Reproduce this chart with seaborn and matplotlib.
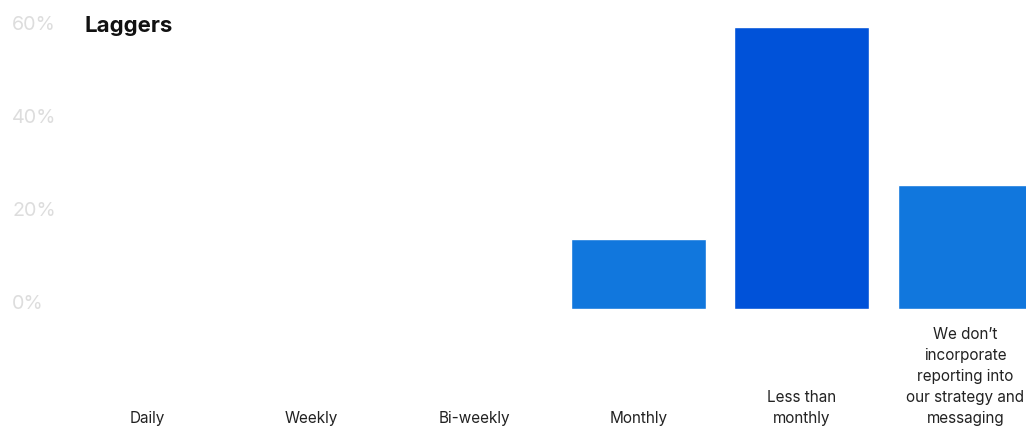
import matplotlib
matplotlib.use("Agg")
import matplotlib.pyplot as plt
import seaborn as sns
import pandas as pd

# Reporting frequency among laggers
categories = [
    "Daily",
    "Weekly",
    "Bi-weekly",
    "Monthly",
    "Less than\nmonthly",
    "We don\u2019t\nincorporate\nreporting into\nour strategy and\nmessaging",
]
shares = [0.0, 0.0, 0.0, 15.0, 60.6, 26.7]
highlight = "Less than\nmonthly"
y_ticks = [0, 20, 40, 60]
y_tick_labels = ["0%", "20%", "40%", "60%"]
title = "Laggers"

BLUE = "#1177DD"
DARK_BLUE = "#0052D9"

sns.set_theme(style="white")
plt.rcParams["font.family"] = ["Inter", "DejaVu Sans"]

df = pd.DataFrame({"category": categories, "share": shares})
palette = {c: (DARK_BLUE if c == highlight else BLUE) for c in categories}

W, H = 1026, 428
fig = plt.figure(figsize=(W / 100, H / 100), dpi=100)

# axes spans one category slot per 163.5 px, starting at x=66; zero line at y=308.7
slot = 163.5
x0 = 66
px_per_pct = 4.647
zero_y = 308.7
ymax = 65
ax = fig.add_axes([x0 / W, (H - zero_y) / H, 6 * slot / W, ymax * px_per_pct / H])

sns.barplot(data=df, x="category", y="share", hue="category", palette=palette,
            legend=False, width=0.826, saturation=1, ax=ax)

ax.set_ylim(0, ymax)
ax.set_xlim(-0.5, 5.5)
sns.despine(ax=ax, left=True, bottom=True)
ax.set_xlabel("")
ax.set_ylabel("")
ax.grid(False)

ax.set_yticks(y_ticks)
ax.set_yticklabels(y_tick_labels, fontsize=14.2, color="#DDDDDD")
ax.tick_params(axis="y", length=0, pad=(x0 - 12) * 0.72)
for t in ax.get_yticklabels():
    t.set_horizontalalignment("left")
    t.set_verticalalignment("baseline")

ax.tick_params(axis="x", length=0, pad=(426 - zero_y) * 0.72)
for t in ax.get_xticklabels():
    t.set_verticalalignment("bottom")
    t.set_fontsize(11)
    t.set_color("#222222")
    t.set_linespacing(1.49)
    t.set_multialignment("center")

fig.text(84 / W, 1 - 31.5 / H, title, fontsize=16, fontweight="bold",
         color="#111111", ha="left", va="baseline")

fig.savefig("out.png", dpi=100)
